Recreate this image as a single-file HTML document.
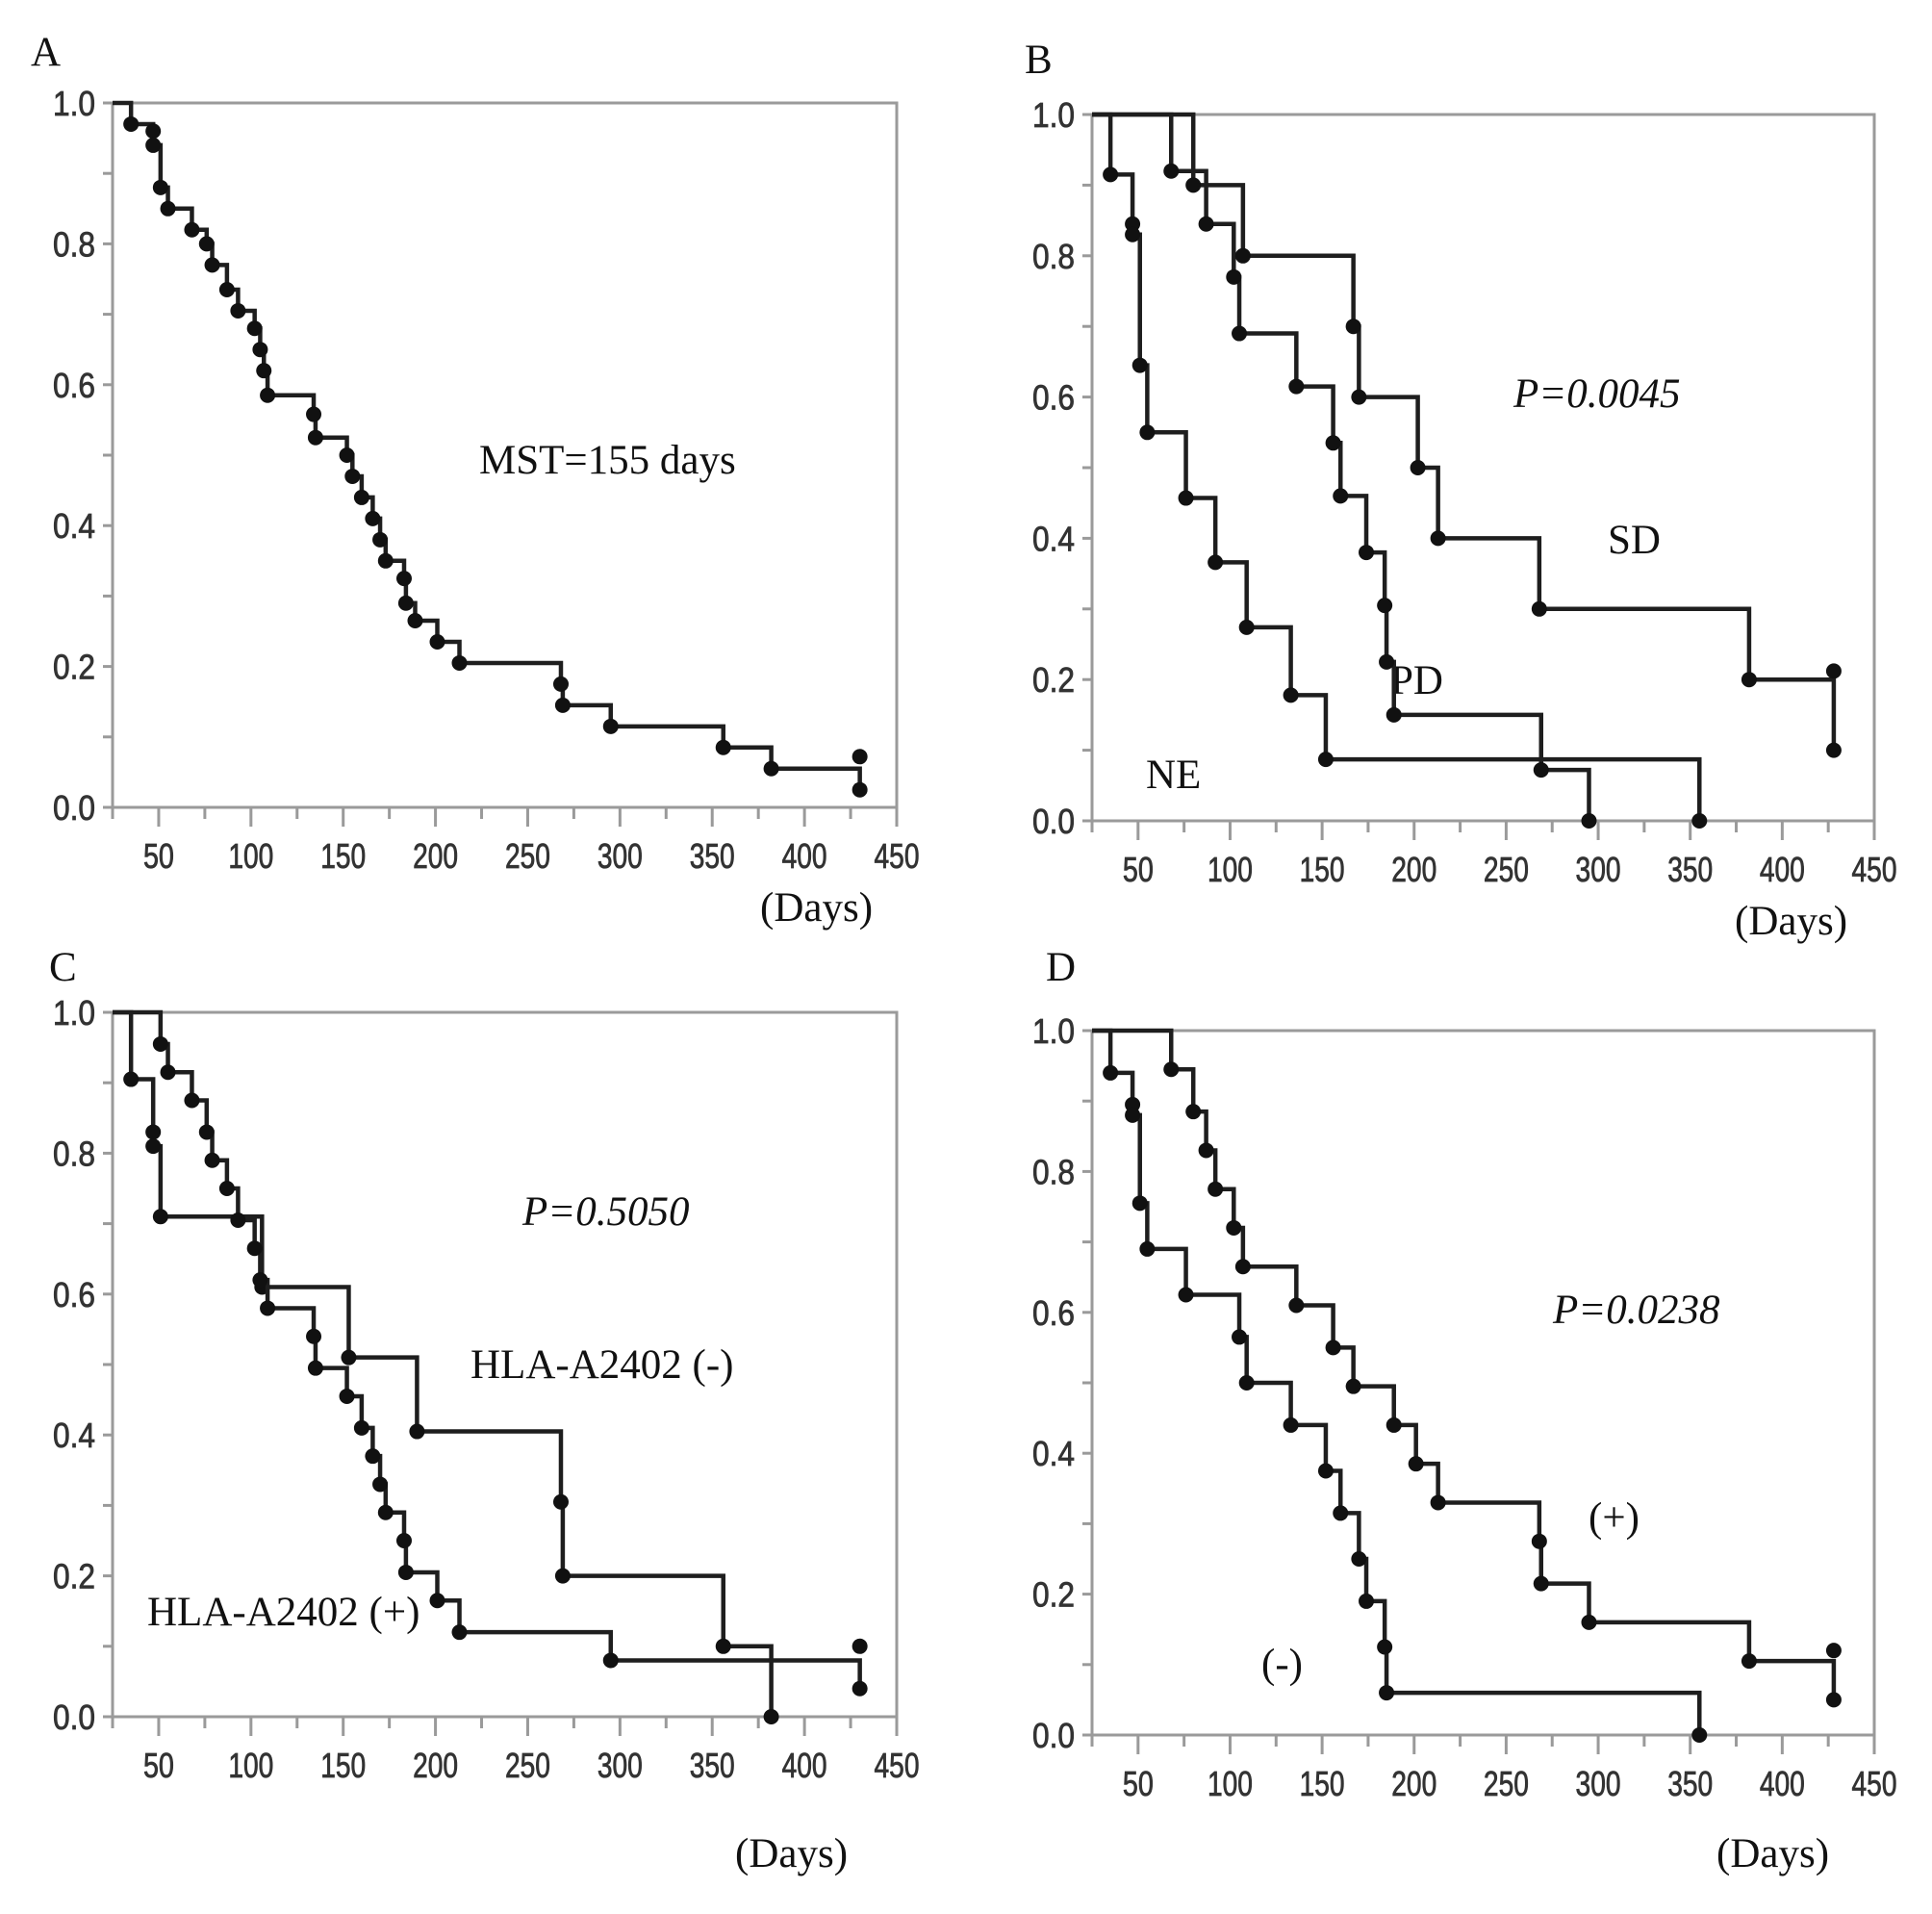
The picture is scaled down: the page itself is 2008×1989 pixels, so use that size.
<!DOCTYPE html>
<html><head><meta charset="utf-8"><title>Kaplan-Meier survival curves</title>
<style>
html,body{margin:0;padding:0;background:#fff;}
svg{display:block;}
.ann{font-family:"Liberation Serif",serif;font-size:43px;fill:#111;}
.it{font-style:italic;}
.tick{font-family:"Liberation Sans",sans-serif;font-size:36px;fill:#333;stroke:#333;stroke-width:0.8;}
</style></head>
<body>
<svg id="fig" width="2008" height="1989" viewBox="0 0 2008 1989" xmlns="http://www.w3.org/2000/svg">
<g>
<text class="ann" x="32" y="68">A</text>
<text class="ann" x="498" y="492">MST=155 days</text>
<text class="ann" x="790" y="957">(Days)</text>
</g>
<g>
<text class="ann" x="1065" y="76">B</text>
<text class="ann it" x="1573" y="423">P=0.0045</text>
<text class="ann" x="1671" y="575">SD</text>
<text class="ann" x="1445" y="721">PD</text>
<text class="ann" x="1191" y="819">NE</text>
<text class="ann" x="1803" y="971">(Days)</text>
</g>
<g>
<text class="ann" x="51" y="1019">C</text>
<text class="ann it" x="543" y="1273">P=0.5050</text>
<text class="ann" x="489" y="1432">HLA-A2402 (-)</text>
<text class="ann" x="153" y="1689">HLA-A2402 (+)</text>
<text class="ann" x="764" y="1940">(Days)</text>
</g>
<g>
<text class="ann" x="1087" y="1019">D</text>
<text class="ann it" x="1614" y="1375">P=0.0238</text>
<text class="ann" x="1651" y="1591">(+)</text>
<text class="ann" x="1311" y="1743">(-)</text>
<text class="ann" x="1784" y="1940">(Days)</text>
</g>
</svg>
<script>
// ---- data ----
const xTicks = [50,100,150,200,250,300,350,400,450];
const yTicks = [0,0.2,0.4,0.6,0.8,1.0];
const yTickLabels = ["0.0","0.2","0.4","0.6","0.8","1.0"];
// Panel A
const aTimes = [35,47,47,51,55,68,76,79,87,93,102,105,107,109,134,135,152,155,160,166,170,173,183,184,189,201,213,268,269,295,356,382,430];
const aSurv  = [0.97,0.96,0.94,0.88,0.85,0.82,0.80,0.77,0.735,0.705,0.68,0.65,0.62,0.585,0.558,0.525,0.50,0.47,0.44,0.41,0.38,0.35,0.325,0.29,0.265,0.235,0.205,0.175,0.145,0.115,0.085,0.055,0.025];
const aCensorT = [430]; const aCensorS = [0.072];
// Panel B
const neTimes = [35,47,47,51,55,76,92,109,133,152,355];
const neSurv  = [0.915,0.845,0.83,0.645,0.55,0.457,0.366,0.274,0.178,0.087,0.0];
const pdTimes = [68,87,102,105,136,156,160,174,184,185,189,269,295];
const pdSurv  = [0.92,0.845,0.77,0.69,0.615,0.535,0.46,0.38,0.305,0.225,0.15,0.072,0.0];
const sdTimes = [80,107,167,170,202,213,268,382,428];
const sdSurv  = [0.9,0.8,0.70,0.6,0.5,0.4,0.3,0.2,0.1];
const sdCensorT = [428]; const sdCensorS = [0.212];
// Panel C
const cNegTimes = [35,47,47,51,106,153,190,268,269,356,382];
const cNegSurv  = [0.905,0.83,0.81,0.71,0.61,0.51,0.405,0.305,0.2,0.1,0.0];
const cPosTimes = [51,55,68,76,79,87,93,102,105,109,134,135,152,160,166,170,173,183,184,201,213,295,430];
const cPosSurv  = [0.955,0.915,0.875,0.83,0.79,0.75,0.705,0.665,0.62,0.58,0.54,0.495,0.455,0.41,0.37,0.33,0.29,0.25,0.205,0.165,0.12,0.08,0.04];
const cCensorT = [430]; const cCensorS = [0.1];
// Panel D
const dNegTimes = [35,47,47,51,55,76,105,109,133,152,160,170,174,184,185,355];
const dNegSurv  = [0.94,0.895,0.88,0.755,0.69,0.625,0.565,0.5,0.44,0.375,0.315,0.25,0.19,0.125,0.06,0.0];
const dPosTimes = [68,80,87,92,102,107,136,156,167,189,201,213,268,269,295,382,428];
const dPosSurv  = [0.945,0.885,0.83,0.775,0.72,0.665,0.61,0.55,0.495,0.44,0.385,0.33,0.275,0.215,0.16,0.105,0.05];
const dCensorT = [428]; const dCensorS = [0.12];

const NS = "http://www.w3.org/2000/svg";
const svg = document.getElementById('fig');
function mk(tag, attrs, parent){
  const e = document.createElementNS(NS, tag);
  for (const k in attrs) e.setAttribute(k, attrs[k]);
  (parent||svg).appendChild(e);
  return e;
}
function makePanel(id, L, R, T, B){
  const xS = d => L + (d - 25) / 425 * (R - L);
  const yS = v => B - v * (B - T);
  const g = mk('g', {});
  
  
  const frame = mk('rect', {x:L, y:T, width:R-L, height:B-T, fill:'none', stroke:'#9a9a9a', 'stroke-width':3}, g);
  
  
  for (let i = 0; i <= 10; i++) {
    const y = yS(i / 10);
    const t = mk('line', {x1:L-10, x2:L, y1:y, y2:y, stroke:'#9a9a9a', 'stroke-width':3}, g);
    
    
  }
  yTicks.forEach((v, i) => {
    const t = mk('text', {x:L-18, y:yS(v)+13, 'text-anchor':'end', class:'tick', textLength:44, lengthAdjust:'spacingAndGlyphs'}, g);
    t.textContent = yTickLabels[i];
    
    
  });
  for (let d = 25; d <= 450; d += 25) {
    const x = xS(d);
    const major = d % 50 === 0;
    const t = mk('line', {x1:x, x2:x, y1:B, y2:B + (major ? 20 : 12), stroke:'#9a9a9a', 'stroke-width':3}, g);
    
    
  }
  xTicks.forEach(d => {
    const s = String(d);
    const t = mk('text', {x:xS(d), y:B+63, 'text-anchor':'middle', class:'tick', textLength: s.length === 2 ? 32 : 47, lengthAdjust:'spacingAndGlyphs'}, g);
    t.textContent = s;
    
    
  });
  return {g, xS, yS, L};
}
function curve(p, name, times, surv, cT, cS){
  let d = 'M' + p.xS(25) + ' ' + p.yS(1);
  let prev = 1;
  times.forEach((t, i) => {
    d += ' L' + p.xS(t) + ' ' + p.yS(prev) + ' L' + p.xS(t) + ' ' + p.yS(surv[i]);
    prev = surv[i];
  });
  const path = mk('path', {d:d, fill:'none', stroke:'#1e1e1e', 'stroke-width':4.5, 'stroke-linejoin':'miter'}, p.g);
  
  
  times.forEach((t, i) => {
    const c = mk('circle', {cx:p.xS(t), cy:p.yS(surv[i]), r:8, fill:'#111'}, p.g);
    
    
  });
  (cT||[]).forEach((t, i) => {
    const c = mk('circle', {cx:p.xS(t), cy:p.yS(cS[i]), r:8, fill:'#111'}, p.g);
    
    
  });
}
const pA = makePanel('panel-a', 117, 932, 107, 839);
curve(pA, 'overall', aTimes, aSurv, aCensorT, aCensorS);
const pB = makePanel('panel-b', 1135, 1948, 119, 853);
curve(pB, 'ne', neTimes, neSurv);
curve(pB, 'pd', pdTimes, pdSurv);
curve(pB, 'sd', sdTimes, sdSurv, sdCensorT, sdCensorS);
const pC = makePanel('panel-c', 117, 932, 1052, 1784);
curve(pC, 'hla-negative', cNegTimes, cNegSurv);
curve(pC, 'hla-positive', cPosTimes, cPosSurv, cCensorT, cCensorS);
const pD = makePanel('panel-d', 1135, 1948, 1071, 1803);
curve(pD, 'negative', dNegTimes, dNegSurv);
curve(pD, 'positive', dPosTimes, dPosSurv, dCensorT, dCensorS);
</script>
</body></html>
